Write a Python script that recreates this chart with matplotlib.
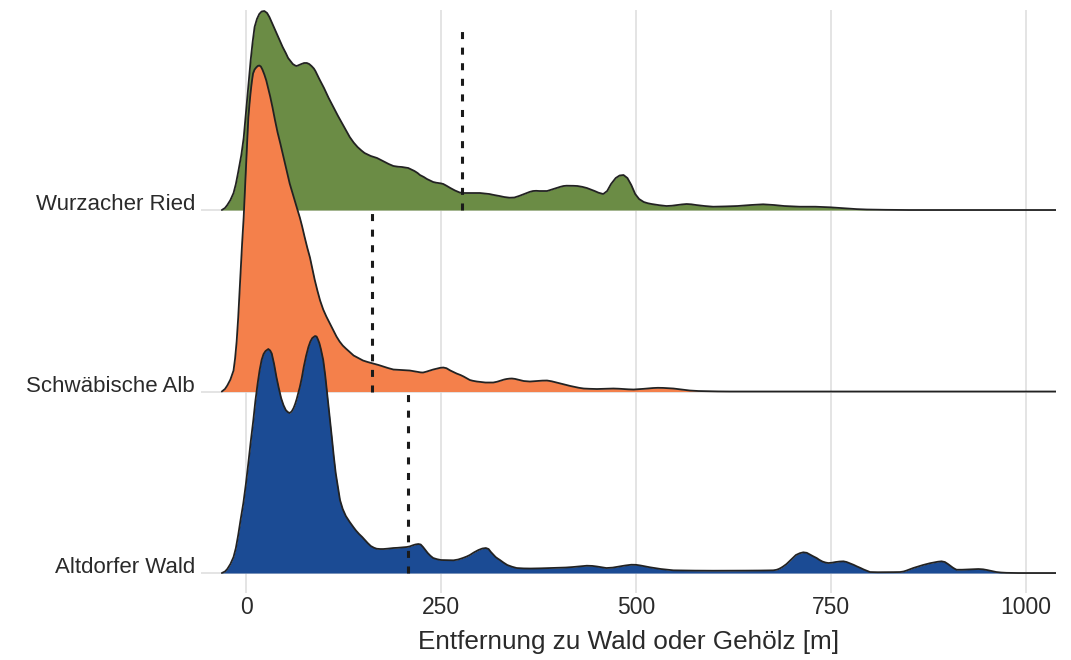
import matplotlib
matplotlib.use("Agg")
import matplotlib.pyplot as plt

plt.rcParams["font.family"] = ["Liberation Sans", "DejaVu Sans"]

# Distance to forest / woody vegetation, smoothed density per region
regions = ["Altdorfer Wald", "Schwäbische Alb", "Wurzacher Ried"]
colors = ["#1b4b94", "#f4804b", "#6b8c45"]
means = [208, 161, 277]

wurzach_dist = [
    -31, -27, -24, -20, -16, -13, -10, -6, -3, 0,
    2, 4, 6, 8.5, 11, 14, 17, 20, 23.5, 27,
    30, 34, 39, 43, 47, 51, 54, 57, 60, 63,
    65, 68, 71, 74.5, 78, 81, 84, 87, 89, 94,
    100, 106, 112, 118, 123, 128, 133, 138, 143, 148,
    152, 156, 160, 164, 168, 173, 178, 183, 189, 195,
    200, 204, 208, 212, 216, 220, 223, 228, 232, 236,
    240, 244, 247, 250, 253, 257, 262, 268, 274, 280,
    287, 293, 300, 306, 312, 318, 325, 331, 338, 344,
    350, 355, 360, 364, 368, 372, 376, 381, 386, 392,
    398, 403, 407, 411, 415, 420, 425, 431, 437, 442,
    447, 452, 458, 463, 468, 474, 479, 484, 489, 494,
    499, 504, 510, 515, 520, 530, 539, 546, 553, 559,
    565, 571, 577, 588, 599, 615, 630, 647, 663, 677,
    690, 700, 710, 720, 730, 740, 749, 760, 770, 783,
    796, 808, 820, 835, 850, 1038.5]
wurzach_dens = [
    0, 2, 5, 10, 17, 26, 38, 55, 72, 98,
    115, 133, 150, 168, 183, 191, 196, 198.5, 199, 197,
    193, 186, 177, 170, 163, 157, 152, 149, 146, 144.5,
    144, 145, 146, 147, 147, 146, 144, 141.5, 139, 131,
    122, 112, 103, 94, 87, 80, 73, 67.5, 63, 59.5,
    57, 55.5, 54, 53, 52, 50, 48, 46, 44, 43.3,
    43, 42.5, 42, 40.5, 39, 37, 35, 33, 31, 29.5,
    28, 27.3, 27, 26.6, 26, 24.3, 22, 19.5, 17.5, 17,
    17, 17, 17, 16.5, 16, 15, 14, 13, 12.3, 12.5,
    14, 15.5, 17, 18.2, 19, 19.2, 19, 19, 19, 20.5,
    22, 23.2, 24, 24.3, 24.3, 24.2, 24, 23.2, 22, 20.5,
    19, 17.3, 16, 19, 26, 32, 34.5, 35, 32, 25,
    16, 11, 8, 6.8, 6, 4.8, 4, 4.3, 5, 5.6,
    6, 5.7, 5, 4, 3.3, 3.6, 4, 5, 5.7, 5,
    4, 3.6, 3.3, 3.3, 3.3, 3, 2.7, 2.1, 1.5, 0.9,
    0.5, 0.3, 0.2, 0.1, 0, 0]

alb_dist = [
    -31, -27, -24, -20, -16, -14, -12, -10, -8.5, -7,
    -5, -3, -1.5, 0, 1.5, 3, 4.5, 6, 7.5, 9,
    11, 13, 15, 17, 19, 21, 23.5, 26, 28.5, 31,
    34, 37, 40.5, 44, 47, 50, 53, 56, 59, 62,
    65.5, 69, 72, 75, 78.5, 82, 85, 88, 91.5, 95,
    99, 103, 107.5, 112, 116, 120, 124, 128, 133, 138,
    144, 150, 156, 163, 170, 176, 182, 189, 195, 200,
    205, 210, 215, 220, 224, 227, 231, 236, 240, 245,
    249, 253, 257, 262, 266, 270, 275, 279, 283, 287,
    291, 296, 301, 307, 312, 317, 322, 327, 331, 334,
    338, 341, 345, 348, 352, 356, 360, 364, 369, 375,
    380, 386, 392, 398, 404, 411, 416, 422, 427, 433,
    441, 450, 460, 471, 478, 484, 490, 497, 503, 510,
    516, 522, 528, 535, 541, 548, 554, 560, 565, 569,
    580, 590, 605, 620, 1038.5]
alb_dens = [
    0, 2.5, 6, 12, 21, 33, 50, 74, 96, 120,
    148, 174, 200, 225, 250, 274, 288, 300, 310, 318,
    322, 324, 325.5, 326, 325, 322, 317, 311, 303, 295,
    284, 272, 259, 248, 238, 228, 218, 208, 200, 192,
    183, 174, 165, 155, 144, 134, 123, 112, 101, 91,
    82, 75, 68, 61, 55, 50, 46, 43, 39.5, 36,
    33.5, 31, 29.5, 28, 26.5, 25, 23.5, 22, 21.7, 21.5,
    21.2, 21, 20.3, 19.5, 19.1, 19, 19.8, 21, 22, 23,
    23.7, 24, 23.3, 21, 19.5, 18, 16.5, 15, 13.2, 11.5,
    10.7, 10, 9.5, 9, 9, 9, 9.8, 11, 12, 12.5,
    12.9, 13, 12.6, 12, 11.2, 10.5, 10.2, 10, 10.3, 10.7,
    10.9, 11, 10.2, 9, 7.8, 6.5, 5.5, 4.5, 3.7, 3,
    2.7, 2.5, 2.7, 3, 2.8, 2.5, 2.2, 2, 2.3, 2.7,
    3.1, 3.5, 3.7, 3.6, 3.3, 3, 2.4, 1.8, 1.3, 1,
    0.5, 0.3, 0.1, 0, 0]

altdorf_dist = [
    -31, -27, -24, -20, -16, -13, -10, -7, -3.4, 0,
    3, 6, 9.4, 12, 15, 17.5, 20, 22.5, 25, 28.6,
    31, 33, 36, 39, 42, 45, 48, 51, 53.5, 56,
    58.5, 61, 63, 65, 67, 69, 71.5, 74, 77, 80,
    82.5, 85, 88.5, 90.5, 92, 94, 96, 99, 101.5, 104,
    107, 110, 112.5, 115, 118, 120.5, 124, 128, 133, 137.6,
    141, 145, 149, 152.5, 156, 160, 164, 167.5, 172, 176,
    182, 189, 194, 198, 202, 206, 210, 213, 217, 221,
    224, 227, 230, 233, 236.5, 240, 245, 250, 258, 266,
    272, 278, 283, 287, 292, 298, 303, 307.5, 311, 314,
    317, 320, 323, 325.6, 330, 335, 341, 347, 356, 365,
    378, 390, 400, 410, 419, 428, 437, 444, 450, 456,
    462, 470, 478, 486, 494, 500, 506, 512, 518, 525,
    532, 540, 548, 562, 575, 587, 599, 620, 640, 660,
    676, 680, 683, 686, 689, 693, 697, 701, 705, 710,
    714.5, 719, 723, 727, 731.6, 735, 739, 743, 746.6, 751,
    756, 761, 766, 770, 775, 779, 783, 788, 792, 796,
    800, 810, 820, 830, 838.5, 843, 847, 851, 855.5, 860,
    864, 868, 872.7, 877, 882, 887, 891.7, 896, 900, 903,
    906, 908.5, 911, 918, 925, 932, 939, 945, 950, 956,
    962, 968, 975, 982, 990, 1038.5]
altdorf_dens = [
    0, 1.5, 4, 9, 16, 25, 38, 53, 70, 90,
    110, 131, 153, 172, 190, 203, 213, 219, 222, 224,
    222.5, 219.5, 209, 196, 185, 175, 168, 163, 161, 160,
    161.5, 165, 169, 174, 180, 186, 195, 206, 217, 226,
    231.5, 235, 237, 236.5, 234, 230, 224, 213, 198, 180,
    158, 136, 117, 100, 85, 73, 64, 57, 51, 46,
    42.5, 39, 36, 33, 30, 27, 25.3, 24.3, 24, 24,
    24.4, 25, 25.2, 25.5, 25.7, 26, 26.6, 27.5, 28.5, 29,
    28.5, 26, 23, 20, 17.2, 15, 13.8, 13, 12.8, 12.7,
    13.5, 15, 16.5, 18, 20.5, 23, 24.5, 25, 24, 21,
    18.5, 16, 14.3, 13, 10.5, 8, 6.3, 5, 4.6, 4.5,
    4.7, 5, 5.2, 5.5, 6, 6.7, 7.3, 7.1, 6.5, 5.7,
    5, 5.4, 6.5, 7.5, 8.3, 8.2, 7.5, 6.6, 5.7, 4.8,
    4, 3.3, 2.7, 2.5, 2.4, 2.3, 2.3, 2.3, 2.4, 2.5,
    2.7, 3.2, 4, 5.2, 6.7, 9, 12, 15, 18, 19.8,
    20.7, 20.2, 18.5, 16.8, 15, 13.2, 11.5, 10.5, 10, 10.3,
    11, 11.5, 11.7, 11, 9.5, 8.2, 6.7, 5, 3.5, 2.2,
    1, 0.8, 0.8, 0.9, 1, 1.5, 2.5, 3.7, 5, 6.1,
    7, 8, 9, 9.8, 10.5, 11.3, 11.7, 11, 9, 7.2,
    5.5, 4.3, 3.3, 3.3, 3.5, 3.8, 4, 3.7, 3, 2,
    1, 0.5, 0.2, 0.1, 0, 0]

dists = [altdorf_dist, alb_dist, wurzach_dist]
denss = [altdorf_dens, alb_dens, wurzach_dens]

ridge_scale = 1 / 181.5   # density units -> row heights
x_ticks = [0, 250, 500, 750, 1000]

fig = plt.figure(figsize=(10.71, 6.60), dpi=100)
ax = fig.add_axes([0.18768, 0.10152, 0.79832, 0.88333])

grid_col = "#dddddd"
for xt in x_ticks:
    ax.axvline(xt, color=grid_col, lw=1.1, zorder=0)
for i in range(len(regions)):
    ax.axhline(i, color=grid_col, lw=1.1, zorder=0)

# Ridges: top row first so lower rows overlap it
for i in reversed(range(len(regions))):
    xs = dists[i]
    ys = [i + d * ridge_scale for d in denss[i]]
    z = 10 + (len(regions) - i) * 2
    ax.fill_between(xs, i, ys, color=colors[i], lw=0, zorder=z)
    ax.plot(xs, ys, color="#222222", lw=1.3, zorder=z + 1,
            solid_joinstyle="round", solid_capstyle="round")

for i, m in enumerate(means):
    ax.plot([m, m], [i, i + 1], color="#1a1a1a", lw=2.2, dashes=(2.3, 2.8), zorder=30)

ax.set_xlim(-57.7, 1038.5)
ax.set_ylim(-0.110, 3.102)
for s in ax.spines.values():
    s.set_visible(False)

ax.set_xticks(x_ticks)
ax.set_xticklabels([str(t) for t in x_ticks])
ax.set_yticks(range(len(regions)))
ax.set_yticklabels(regions)
ax.tick_params(axis="x", length=0, pad=2, labelsize=16.5, labelcolor="#2a2a2a")
ax.tick_params(axis="y", length=0, pad=4.3, labelsize=16, labelcolor="#2a2a2a")
for t in ax.get_yticklabels():
    t.set_verticalalignment("baseline")

ax.set_xlabel("Entfernung zu Wald oder Gehölz [m]", fontsize=18.8, color="#2a2a2a",
              labelpad=8)

fig.savefig("out.png", dpi=100)
